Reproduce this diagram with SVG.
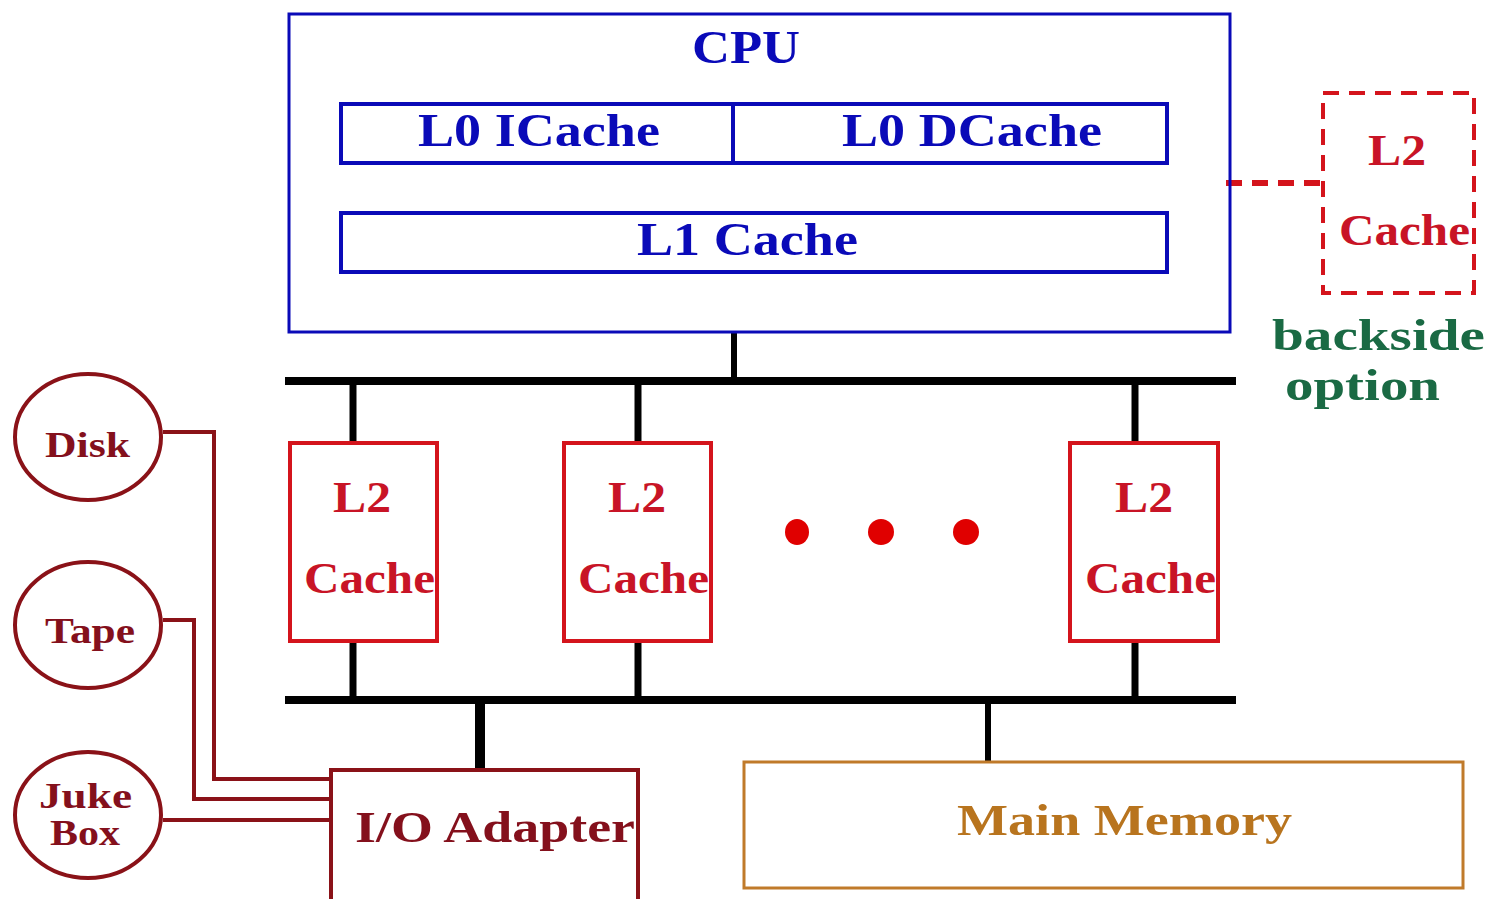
<svg xmlns="http://www.w3.org/2000/svg" width="1491" height="899" viewBox="0 0 1491 899">
<style>
text{font-family:"Liberation Serif","Times New Roman",serif;font-weight:bold;}
.blue{fill:none;stroke:#0a0ab8;}
.bt{fill:#0a0ab8;font-size:46px;}
.red{fill:none;stroke:#d4141c;stroke-width:4;}
.rt{fill:#c81426;font-size:44px;}
.bus{stroke:#000;fill:none;}
.dr{fill:none;stroke:#8a1218;stroke-width:4;}
.drt{fill:#84101c;font-size:36px;}
</style>
<rect width="1491" height="899" fill="#fff"/>
<g id="connectors">
<line class="bus" x1="734" y1="332" x2="734" y2="381" stroke-width="6"/>
<line class="bus" x1="285" y1="381" x2="1236" y2="381" stroke-width="8"/>
<line class="bus" x1="285" y1="700" x2="1236" y2="700" stroke-width="8"/>
<line class="bus" x1="353" y1="381" x2="353" y2="443" stroke-width="7"/>
<line class="bus" x1="353" y1="641" x2="353" y2="700" stroke-width="7"/>
<line class="bus" x1="638" y1="381" x2="638" y2="443" stroke-width="7"/>
<line class="bus" x1="638" y1="641" x2="638" y2="700" stroke-width="7"/>
<line class="bus" x1="1135" y1="381" x2="1135" y2="443" stroke-width="7"/>
<line class="bus" x1="1135" y1="641" x2="1135" y2="700" stroke-width="7"/>
<line class="bus" x1="480" y1="700" x2="480" y2="770" stroke-width="10"/>
<line class="bus" x1="988" y1="700" x2="988" y2="762" stroke-width="6"/>
<line x1="1226" y1="183" x2="1323" y2="183" stroke="#d4141c" stroke-width="6" stroke-dasharray="16,10"/>
<polyline class="dr" points="163,432 214,432 214,779 331,779" stroke-width="3"/>
<polyline class="dr" points="163,620 194,620 194,799 331,799"/>
<polyline class="dr" points="163,820 331,820"/>
</g>
<g id="cpu">
<rect class="blue" x="289" y="14" width="941" height="318" stroke-width="3"/>
<text class="bt" x="692" y="63" textLength="108" lengthAdjust="spacingAndGlyphs">CPU</text>
</g>
<g id="l0">
<rect class="blue" x="341" y="104" width="826" height="59" stroke-width="4"/>
<line class="blue" x1="733" y1="104" x2="733" y2="163" stroke-width="4"/>
<text class="bt" x="418" y="146" textLength="242" lengthAdjust="spacingAndGlyphs">L0 ICache</text>
<text class="bt" x="842" y="146" textLength="260" lengthAdjust="spacingAndGlyphs">L0 DCache</text>
</g>
<g id="l1">
<rect class="blue" x="341" y="213" width="826" height="59" stroke-width="4"/>
<text class="bt" x="637" y="255" textLength="221" lengthAdjust="spacingAndGlyphs">L1 Cache</text>
</g>
<g id="l2backside">
<rect x="1323" y="93" width="151" height="200" fill="none" stroke="#d4141c" stroke-width="4" stroke-dasharray="16,10"/>
<text class="rt" x="1368" y="165" textLength="58" lengthAdjust="spacingAndGlyphs">L2</text>
<text class="rt" x="1339" y="245" textLength="131" lengthAdjust="spacingAndGlyphs" font-size="40">Cache</text>
<text x="1272" y="350" fill="#1a6a44" font-size="44" textLength="213" lengthAdjust="spacingAndGlyphs">backside</text>
<text x="1285" y="400" fill="#1a6a44" font-size="44" textLength="155" lengthAdjust="spacingAndGlyphs">option</text>
</g>
<g id="l2a">
<rect class="red" x="290" y="443" width="147" height="198"/>
<text class="rt" x="333" y="512" textLength="58" lengthAdjust="spacingAndGlyphs">L2</text>
<text class="rt" x="304" y="593" textLength="131" lengthAdjust="spacingAndGlyphs">Cache</text>
</g>
<g id="l2b">
<rect class="red" x="564" y="443" width="147" height="198"/>
<text class="rt" x="608" y="512" textLength="58" lengthAdjust="spacingAndGlyphs">L2</text>
<text class="rt" x="578" y="593" textLength="131" lengthAdjust="spacingAndGlyphs">Cache</text>
</g>
<g id="dots" fill="#e00000">
<ellipse cx="797" cy="532" rx="12" ry="13"/>
<ellipse cx="881" cy="532" rx="13" ry="13"/>
<ellipse cx="966" cy="532" rx="13" ry="13"/>
</g>
<g id="l2n">
<rect class="red" x="1070" y="443" width="148" height="198"/>
<text class="rt" x="1115" y="512" textLength="58" lengthAdjust="spacingAndGlyphs">L2</text>
<text class="rt" x="1085" y="593" textLength="131" lengthAdjust="spacingAndGlyphs">Cache</text>
</g>
<g id="disk">
<ellipse class="dr" cx="88" cy="437" rx="73" ry="63"/>
<text class="drt" x="45" y="457" textLength="85" lengthAdjust="spacingAndGlyphs">Disk</text>
</g>
<g id="tape">
<ellipse class="dr" cx="88" cy="625" rx="73" ry="63"/>
<text class="drt" x="45" y="643" textLength="90" lengthAdjust="spacingAndGlyphs">Tape</text>
</g>
<g id="jukebox">
<ellipse class="dr" cx="88" cy="815" rx="73" ry="63"/>
<text class="drt" x="39" y="808" textLength="93" lengthAdjust="spacingAndGlyphs">Juke</text>
<text class="drt" x="50" y="845" textLength="70" lengthAdjust="spacingAndGlyphs">Box</text>
</g>
<g id="io">
<rect class="dr" x="331" y="770" width="307" height="140"/>
<text x="355" y="842" fill="#84101c" font-size="44" textLength="280" lengthAdjust="spacingAndGlyphs">I/O Adapter</text>
</g>
<g id="memory">
<rect x="744" y="762" width="719" height="126" fill="none" stroke="#c07a2a" stroke-width="3"/>
<text x="957" y="835" fill="#b8741e" font-size="44" textLength="335" lengthAdjust="spacingAndGlyphs">Main Memory</text>
</g>
</svg>
